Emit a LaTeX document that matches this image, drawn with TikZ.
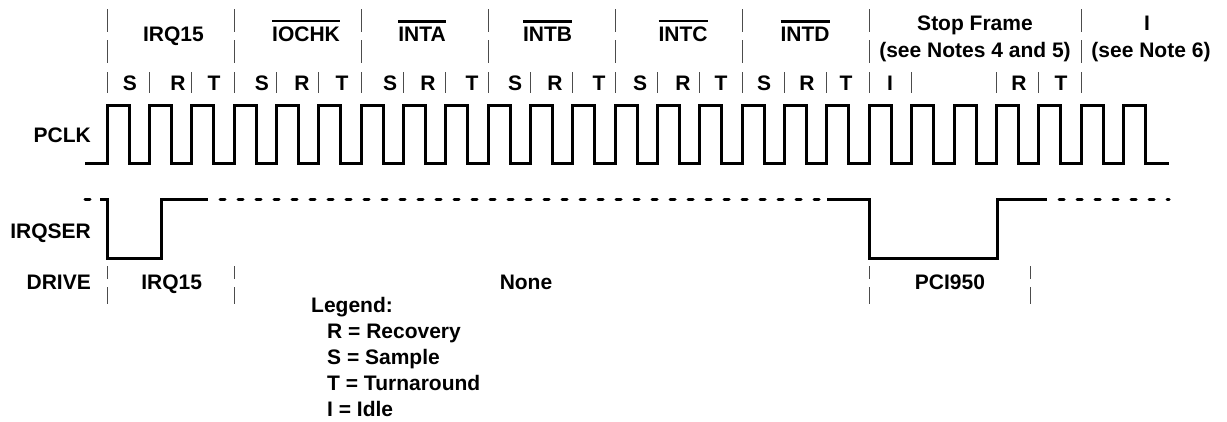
\documentclass[tikz,border=0pt]{standalone}
\usepackage{fontspec}
\setmainfont{Liberation Sans}
\newcommand\ovl[1]{\vbox{\hrule height 2.4pt\kern 4pt\hbox{#1}}}
\begin{document}
\begin{tikzpicture}[x=1pt,y=-1pt,
  lbl/.style={font=\fontsize{21}{26}\selectfont\bfseries, inner sep=0pt, anchor=base},
  rlbl/.style={lbl, anchor=base east},
  llbl/.style={lbl, anchor=base west},
  sig/.style={line width=3pt, line cap=butt, line join=miter},
  dsig/.style={line width=3pt, line cap=round, dash pattern=on 5pt off 13pt},
  divider/.style={line width=1pt, black!70}]
\useasboundingbox (0,0) rectangle (1227,421);

% ---- frame dividers (top two rows) ----
\foreach \k in {0,3,6,9,12,15,18,23}{
  \draw[divider] ({107+42.35*\k},9) -- ({107+42.35*\k},32)
                 ({107+42.35*\k},40) -- ({107+42.35*\k},63);
}
% ---- slot dividers ----
\foreach \k in {0,...,19,21,22,23}{
  \draw[divider] ({107+42.35*\k},72) -- ({107+42.35*\k},93);
}

% ---- frame labels ----
\node[lbl] (fIRQ) at (173.5,41) {IRQ15};
\node[lbl] (fIOCHK) at (306,41) {\ovl{IOCHK}};
\node[lbl] (fINTA) at (422,41) {\ovl{INTA}};
\node[lbl] (fINTB) at (547.5,41) {\ovl{INTB}};
\node[lbl] (fINTC) at (683,41) {\ovl{INTC}};
\node[lbl] (fINTD) at (805,41) {\ovl{INTD}};
\node[lbl] (fStop) at (975,30.5) {Stop Frame};
\node[lbl] (fStopN) at (975,57.5) {(see Notes 4 and 5)};
\node[lbl] (fIdle) at (1147,30.5) {I};
\node[lbl] (fIdleN) at (1151,57.5) {(see Note 6)};

% ---- slot labels ----
\foreach \x/\t [count=\i] in {130/S,178/R,214/T,262/S,302/R,342/T,390/S,428/R,472/T,
  515/S,555/R,599/T,640/S,683/R,721/T,764/S,807/R,846/T,890/I,1019/R,1061/T}{
  \node[lbl] (slot\i) at (\x,90) {\t};
}

% ---- signal names ----
\node[rlbl] (nPCLK) at (91,142) {PCLK};
\node[rlbl] (nIRQSER) at (91,238.5) {IRQSER};
\node[rlbl] (nDRIVE) at (91,289.5) {DRIVE};

% ---- PCLK ----
\draw[sig] (85,163) foreach \k in {0,...,24}{
  -- ({107+42.35*\k},163) -- ({107+42.35*\k},105)
  -- ({129+42.35*\k},105) -- ({129+42.35*\k},163) } -- (1169,163);

% ---- IRQSER ----
\draw[dsig] (85,199) -- (104,199);
\draw[sig] (100,199) -- (107,199) -- (107,258) -- (161,258) -- (161,199) -- (208,199);
\draw[dsig, dash phase=6pt] (208,199) -- (827,199);
\draw[sig] (827,199) -- (869,199) -- (869,258) -- (997,258) -- (997,199) -- (1047,199);
\draw[dsig, dash phase=6pt] (1047,199) -- (1169,199);

% ---- DRIVE row ----
\foreach \x in {107,234,869,1030}{
  \draw[divider] (\x,266) -- (\x,279) (\x,287) -- (\x,304);
}
\node[lbl] (dIRQ) at (171.7,289.5) {IRQ15};
\node[lbl] (dNone) at (526,289.5) {None};
\node[lbl] (dPCI) at (950,289.5) {PCI950};

% ---- legend ----
\node[llbl] (leg) at (311,312.5) {Legend:};
\node[llbl] (legR) at (327,338.5) {R = Recovery};
\node[llbl] (legS) at (327,364.5) {S = Sample};
\node[llbl] (legT) at (327,390.5) {T = Turnaround};
\node[llbl] (legI) at (327,416.5) {I = Idle};
\end{tikzpicture}
\end{document}
